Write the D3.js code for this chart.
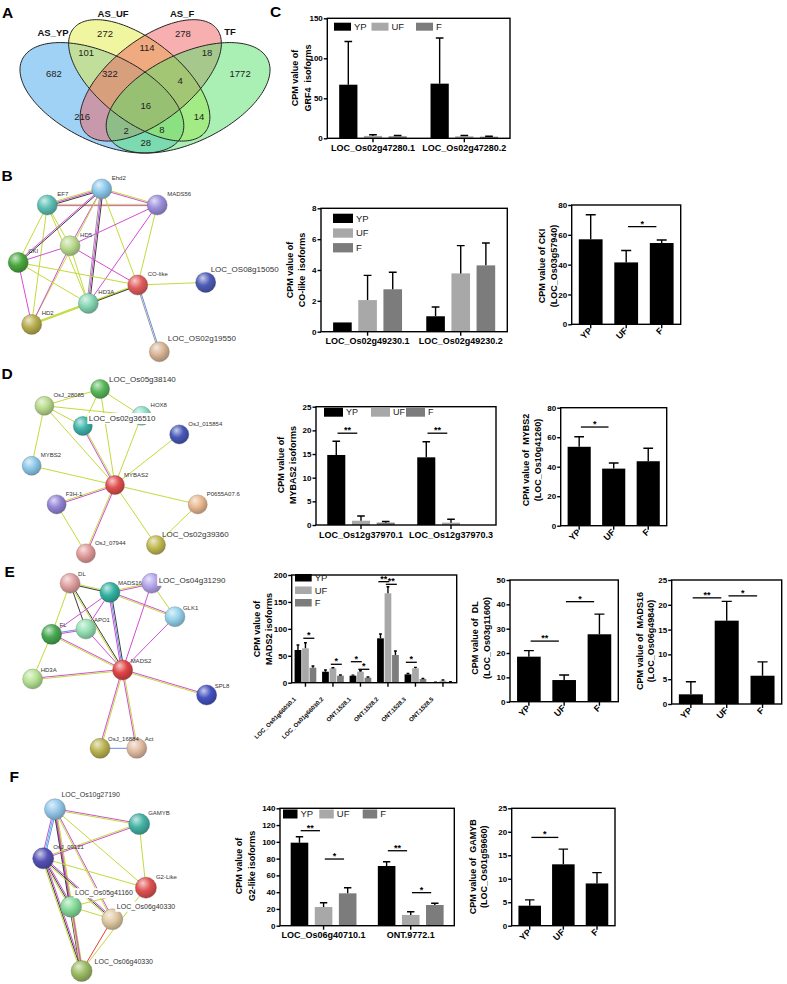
<!DOCTYPE html>
<html lang="en">
<head>
<meta charset="UTF-8" />
<title>AS isoforms and TF networks</title>
<style>
  body { margin: 0; background: white; }
  svg { display: block; font-family: "Liberation Sans", Arial, Helvetica, sans-serif; }
  .axis line { stroke: #000; stroke-width: 1.4px; }
  .axis text { font-size: 8px; font-weight: bold; fill: #000; font-family: "Liberation Sans", Arial, sans-serif; }
  .ytitle { font-size: 9px; font-weight: bold; white-space: pre; }
  .xlab { font-size: 9px; font-weight: bold; }
  .legend-text { font-size: 9.5px; fill: #222; }
  .letter { font-size: 15.5px; font-weight: bold; }
  .venn-num { font-size: 9.5px; fill: #222; }
  .venn-set { font-size: 9.5px; font-weight: bold; fill: #111; }
  .sig { font-size: 9px; font-weight: bold; }
  .node-label { fill: #333; }
</style>
</head>
<body>
<svg width="787" height="984" viewBox="0 0 787 984"></svg>
<script src="https://d3js.org/d3.v7.min.js"></script>
<script>
// ---------------- data ----------------
const conditions = ["YP", "UF", "F"];
const conditionColors = ["#000000", "#a8a8a8", "#7c7c7c"];

// A: Venn of AS genes and TFs
const vennSets = ["AS_YP", "AS_UF", "AS_F", "TF"];
const vennFills = ["#41a5eb", "#e1eb41", "#f06060", "#55e169"];
const vennCounts = [682, 272, 278, 1772, 101, 114, 18, 322, 4, 16, 216, 14, 2, 8, 28];

// C: GRF4
const grf4Isoforms = ["LOC_Os02g47280.1", "LOC_Os02g47280.2"];
const grf4Mean = [[67, 3, 2.5], [68.3, 2.5, 2]];
const grf4Sd = [[54, 1.5, 1], [57, 1, 0.5]];

// B: CO-like isoforms and CKI
const coIsoforms = ["LOC_Os02g49230.1", "LOC_Os02g49230.2"];
const coMean = [[0.6, 2.05, 2.75], [1.0, 3.78, 4.3]];
const coSd = [[0, 1.6, 1.1], [0.6, 1.8, 1.45]];
const ckiMean = [57, 41.5, 54.5];
const ckiSd = [16.5, 8, 2];

// D: MYBAS2 isoforms and MYBS2
const mybas2Isoforms = ["LOC_Os12g37970.1", "LOC_Os12g37970.3"];
const mybas2Mean = [[14.8, 0.9, 0.5], [14.3, 0.5, 0]];
const mybas2Sd = [[2.9, 1.0, 0.25], [3.3, 0.7, 0]];
const mybs2Mean = [53.5, 38.7, 43.7];
const mybs2Sd = [6.8, 3.8, 8.8];

// E: MADS2 isoforms, DL, MADS16
const mads2Isoforms = ["LOC_Os01g66030.1", "LOC_Os01g66030.2", "ONT.1528.1", "ONT.1528.2", "ONT.1528.3", "ONT.1528.5"];
const mads2Mean = [[60.7, 63.8, 27.9], [20.4, 26.7, 13], [13, 20.4, 9.3], [82.4, 166, 51.4], [15.5, 26.7, 6.8], [0.8, 3.7, 1.5]];
const mads2Sd = [[9.3, 10.5, 3.1], [3.2, 1, 1.3], [1, 1.9, 1.2], [8, 12.3, 7.5], [1.5, 1.8, 1], [0.3, 1.3, 0.5]];
const dlMean = [18.5, 8.9, 27.7];
const dlSd = [2.5, 2.1, 8.3];
const mads16Mean = [1.95, 16.8, 5.7];
const mads16Sd = [2.55, 3.9, 2.8];

// F: G2-like isoforms and GAMYB
const g2Isoforms = ["LOC_Os06g40710.1", "ONT.9772.1"];
const g2Mean = [[99, 22.3, 38.6], [71.2, 12.8, 24.7]];
const g2Sd = [[7, 5.1, 6.7], [5.1, 3.9, 2]];
const gamybMean = [4.26, 13.07, 9.0];
const gamybSd = [1.24, 3.23, 2.3];

// significance marks: [[group, bar], [group, bar], height (data units), label]
const ckiSig = [[[1, 0], [2, 0], 65.5, "*"]];
const mybas2Sig = [[[0, 0], [0, 1], 19.4, "**"], [[1, 0], [1, 1], 19.4, "**"]];
const mybs2Sig = [[[0, 0], [1, 0], 66.9, "*"]];
const mads2Sig = [[[0, 1], [0, 2], 82.5, "*"], [[1, 1], [1, 2], 34.2, "*"], [[2, 0], [2, 1], 39, "*"],
  [[2, 1], [2, 2], 24.9, "*"], [[3, 0], [3, 1], 187.6, "**"], [[3, 1], [3, 2], 182.7, "**"], [[4, 0], [4, 1], 37.9, "*"]];
const dlSig = [[[0, 0], [1, 0], 24.9, "**"], [[1, 0], [2, 0], 41.1, "*"]];
const mads16Sig = [[[0, 0], [1, 0], 21.4, "**"], [[1, 0], [2, 0], 21.8, "*"]];
const g2Sig = [[[0, 0], [0, 1], 113.3, "**"], [[0, 1], [0, 2], 79.5, "*"], [[1, 0], [1, 1], 89.4, "**"], [[1, 1], [1, 2], 39.4, "*"]];
const gamybSig = [[[0, 0], [1, 0], 18.8, "*"]];

// STRING networks: [id, label, colour, layout x, layout y, font, label dx, label dy, boxed]
const bNodes = [
  ["Ehd2", "Ehd2", "#8cc8ea", 0.424, 0.095], ["EF7", "EF7", "#5dbfb4", 0.197, 0.175],
  ["MADS56", "MADS56", "#9c8fdc", 0.655, 0.175], ["HD5", "HD5", "#b9da8c", 0.292, 0.379],
  ["CKI", "CKI", "#4aa83e", 0.076, 0.462], ["CO-like", "CO-like", "#e25c5c", 0.574, 0.575],
  ["L08", "LOC_OS08g15050", "#4f5cb8", 0.857, 0.562, 8, 5, -10.5], ["HD3A", "HD3A", "#86d6b4", 0.368, 0.667],
  ["HD2", "HD2", "#b7ae4e", 0.132, 0.772], ["L02", "LOC_OS02g19550", "#d8b596", 0.664, 0.909, 8, 8.5, -11]
];
const bEdges = [
  ["EF7", "Ehd2", "ymk"], ["EF7", "MADS56", "ym"], ["Ehd2", "MADS56", "ym"], ["EF7", "CKI", "y"], ["EF7", "HD5", "y"],
  ["EF7", "HD3A", "y"], ["EF7", "HD2", "y"], ["Ehd2", "CKI", "km"], ["Ehd2", "HD5", "m"], ["Ehd2", "HD3A", "kmg"],
  ["Ehd2", "CO-like", "y"], ["Ehd2", "HD2", "y"], ["MADS56", "HD5", "m"], ["MADS56", "HD3A", "m"], ["MADS56", "CO-like", "y"],
  ["HD5", "CKI", "m"], ["HD5", "CO-like", "m"], ["HD5", "HD2", "m"], ["HD5", "HD3A", "y"], ["CKI", "CO-like", "y"],
  ["CKI", "HD3A", "y"], ["CKI", "HD2", "m"], ["HD2", "HD3A", "yy"], ["HD2", "CO-like", "y"], ["HD3A", "CO-like", "yk"],
  ["CO-like", "L08", "y"], ["CO-like", "L02", "bg"]
];
const dNodes = [
  ["L05", "LOC_Os05g38140", "#58b85a", 0.417, 0.12, 8, 9, -7.5], ["O28", "OsJ_28085", "#b7d98c", 0.185, 0.204],
  ["HOX8", "HOX8", "#8cdcc8", 0.59, 0.254], ["L36", "LOC_Os02g36510", "#3fb5aa", 0.345, 0.305, 8, 6, -5, true],
  ["O15", "OsJ_015854", "#4858b8", 0.747, 0.347], ["MYBS2", "MYBS2", "#8cc8e8", 0.132, 0.504],
  ["MYBAS2", "MYBAS2", "#e05050", 0.479, 0.6], ["F3H", "F3H-1", "#9484d6", 0.236, 0.697],
  ["P06", "P0655A07.6", "#e8b890", 0.824, 0.697], ["L39", "LOC_Os02g39360", "#c2ba52", 0.65, 0.9, 8, 6, -8.5],
  ["O07", "OsJ_07944", "#e29a9a", 0.358, 0.942]
];
const dEdges = [
  ["L05", "O28", "y"], ["L05", "HOX8", "y"], ["L05", "L36", "y"], ["L05", "MYBAS2", "y"], ["O28", "HOX8", "y"],
  ["O28", "L36", "y"], ["O28", "MYBS2", "y"], ["O28", "MYBAS2", "y"], ["HOX8", "MYBAS2", "y"], ["L36", "MYBAS2", "ym"],
  ["O15", "MYBAS2", "y"], ["MYBS2", "MYBAS2", "y"], ["F3H", "MYBAS2", "ym"], ["F3H", "O07", "y"], ["O07", "MYBAS2", "ym"],
  ["MYBAS2", "P06", "y"], ["MYBAS2", "L39", "y"], ["P06", "L39", "y"]
];
const eNodes = [
  ["DL", "DL", "#e0a0a0", 0.292, 0.138], ["MADS16", "MADS16", "#33b2a2", 0.458, 0.182],
  ["L04", "LOC_Os04g31290", "#b4a4ea", 0.632, 0.138, 8, 7, -0.5, true], ["GLK1", "GLK1", "#94d2ea", 0.729, 0.301],
  ["FL", "FL", "#46a852", 0.215, 0.387], ["APO1", "APO1", "#94e0b4", 0.358, 0.361],
  ["MADS2", "MADS2", "#e04444", 0.511, 0.561], ["HD3A", "HD3A", "#b6e294", 0.136, 0.605],
  ["SPL8", "SPL8", "#4452c0", 0.861, 0.683], ["O16", "OsJ_16884", "#bab452", 0.417, 0.943],
  ["Act", "Act", "#e2bca2", 0.57, 0.943]
];
const eEdges = [
  ["DL", "MADS16", "yk"], ["DL", "FL", "y"], ["DL", "APO1", "k"], ["DL", "MADS2", "ky"], ["MADS16", "L04", "ym"],
  ["MADS16", "GLK1", "my"], ["MADS16", "FL", "m"], ["MADS16", "APO1", "m"], ["MADS16", "MADS2", "kbm"],
  ["L04", "GLK1", "y"], ["L04", "MADS2", "m"], ["GLK1", "MADS2", "m"], ["FL", "APO1", "bm"], ["FL", "MADS2", "my"],
  ["FL", "HD3A", "y"], ["APO1", "MADS2", "m"], ["HD3A", "MADS2", "my"], ["MADS2", "SPL8", "my"],
  ["MADS2", "O16", "ym"], ["MADS2", "Act", "ym"], ["O16", "Act", "b"]
];
const fNodes = [
  ["L10", "LOC_Os10g27190", "#94c8ea", 0.229, 0.22, 7, 6.5, -12], ["GAMYB", "GAMYB", "#44b2a4", 0.58, 0.286, 6, 9, -9.5],
  ["O09", "OsJ_09121", "#5452b4", 0.18, 0.439, 6, 10, -9], ["G2", "G2-Like", "#e05252", 0.608, 0.57, 6, 10, -8.5],
  ["L05", "LOC_Os05g41160", "#84da98", 0.296, 0.655, 7, 4, -11.5, true],
  ["TAN", "LOC_Os06g40330", "#e0c8a2", 0.468, 0.711, 7, 4.5, -10.5, true],
  ["OLV", "LOC_Os06g40330", "#9cbc64", 0.34, 0.942, 7, 13, -7.5]
];
const fEdges = [
  ["L10", "GAMYB", "my"], ["L10", "O09", "bcm"], ["L10", "G2", "y"], ["L10", "L05", "ym"], ["L10", "TAN", "my"],
  ["L10", "OLV", "ymk"], ["GAMYB", "O09", "my"], ["GAMYB", "G2", "y"], ["O09", "G2", "y"], ["O09", "L05", "mky"],
  ["O09", "TAN", "mky"], ["O09", "OLV", "mky"], ["L05", "TAN", "y"], ["L05", "G2", "y"], ["L05", "OLV", "my"],
  ["TAN", "OLV", "r"], ["OLV", "G2", "y"]
];
const edgeColors = { y: "#c4da3a", m: "#d24ed6", k: "#3c3c3c", b: "#6e8ee6", c: "#3fc8e2", r: "#e83c3c", g: "#9a9a9a" };

// ---------------- drawing ----------------
const svg = d3.select("svg");
const defs = svg.append("defs");

// panel letters
svg.selectAll("text.letter")
  .data([["A", 2, 17.5], ["B", 1.5, 181], ["C", 270, 17], ["D", 1.5, 378.5], ["E", 4.5, 577], ["F", 9.5, 782]])
  .join("text").attr("class", "letter")
  .attr("x", d => d[1]).attr("y", d => d[2]).text(d => d[0]);

// ----- A: Venn -----
const xV = d3.scaleLinear().domain([0, 1]).range([1.3, 288.7]);
const yV = d3.scaleLinear().domain([0, 1]).range([188.9, -4.9]);
const vennEllipses = [[0.35, 0.47, 0.35, 0.2, -45], [0.48, 0.56, 0.36, 0.17, -56], [0.52, 0.56, 0.36, 0.17, 56], [0.65, 0.47, 0.35, 0.2, 45]];
const vennLabelXY = [[0.183, 0.593], [0.361, 0.799], [0.632, 0.799], [0.831, 0.593], [0.295, 0.701], [0.507, 0.727],
  [0.716, 0.701], [0.378, 0.593], [0.622, 0.557], [0.503, 0.428], [0.281, 0.371], [0.688, 0.371], [0.434, 0.299],
  [0.559, 0.304], [0.503, 0.237]];
const vennSetXY = [[0.18, 0.806], [0.389, 0.906], [0.629, 0.906], [0.796, 0.811]];

function ellipsePoints([cx, cy, a, b, rot]) {
  const th = rot * Math.PI / 180;
  return d3.range(0, 360, 2).map(t => {
    const r = t * Math.PI / 180;
    return [cx + a * Math.cos(r) * Math.cos(th) - b * Math.sin(r) * Math.sin(th),
            cy + a * Math.cos(r) * Math.sin(th) + b * Math.sin(r) * Math.cos(th)];
  });
}
const vennLine = d3.line().x(p => xV(p[0])).y(p => yV(p[1])).curve(d3.curveLinearClosed);
const venn = svg.append("g");
venn.selectAll("path.vfill").data(vennEllipses).join("path").attr("class", "vfill")
  .attr("d", e => vennLine(ellipsePoints(e)))
  .attr("fill", (d, i) => vennFills[i]).attr("fill-opacity", 0.5);
venn.selectAll("path.vedge").data(vennEllipses).join("path").attr("class", "vedge")
  .attr("d", e => vennLine(ellipsePoints(e)))
  .attr("fill", "none").attr("stroke", "#222").attr("stroke-width", 1);
venn.selectAll("text.venn-num").data(vennCounts).join("text").attr("class", "venn-num")
  .attr("x", (d, i) => xV(vennLabelXY[i][0])).attr("y", (d, i) => yV(vennLabelXY[i][1]))
  .attr("dy", "0.35em").attr("text-anchor", "middle").text(d => d);
venn.selectAll("text.venn-set").data(vennSets).join("text").attr("class", "venn-set")
  .attr("x", (d, i) => xV(vennSetXY[i][0])).attr("y", (d, i) => yV(vennSetXY[i][1]))
  .attr("dy", "0.35em").attr("text-anchor", "middle").text(d => d);

// ----- bar charts -----
function barChart(o) {
  const g = svg.append("g");
  const grouped = o.series.length > 1;
  const [left, right, top, bottom] = o.box;
  const x = d3.scaleBand().domain(o.categories).range([left, right])
    .paddingInner(grouped ? 0 : 0.33).paddingOuter(grouped ? 0 : 0.2);
  const span = x.bandwidth() * (grouped ? o.inner : 1);
  const xi = d3.scaleBand().domain(o.series).range([-span / 2, span / 2]).paddingInner(grouped ? o.pad : 0);
  const y = d3.scaleLinear().domain([0, o.yMax]).range([bottom, top]);
  const cx = (c, s) => x(o.categories[c]) + x.bandwidth() / 2 + xi(o.series[s]) + xi.bandwidth() / 2;

  const rows = o.mean.flatMap((r, c) => r.map((v, s) => ({ c, s, v, e: o.sd[c][s] })));
  g.selectAll("rect.bar").data(rows.filter(d => d.v > 0)).join("rect").attr("class", "bar")
    .attr("x", d => cx(d.c, d.s) - xi.bandwidth() / 2).attr("width", xi.bandwidth())
    .attr("y", d => y(d.v)).attr("height", d => y(0) - y(d.v))
    .attr("fill", d => grouped ? conditionColors[d.s] : "#000");

  const capW = xi.bandwidth() * 0.42;
  g.selectAll("path.err").data(rows.filter(d => d.e > 0)).join("path").attr("class", "err")
    .attr("d", d => {
      const xc = cx(d.c, d.s), y0 = y(d.v), y1 = y(d.v + d.e);
      return `M${xc},${y0}V${y1}M${xc - capW / 2},${y1}H${xc + capW / 2}`;
    })
    .attr("fill", "none").attr("stroke", "#000").attr("stroke-width", 1.4);

  g.append("rect").attr("x", left).attr("y", top).attr("width", right - left).attr("height", bottom - top)
    .attr("fill", "none").attr("stroke", "#000").attr("stroke-width", 1.4);

  const ya = g.append("g").attr("class", "axis").attr("transform", `translate(${left},0)`)
    .call(d3.axisLeft(y).tickValues(o.yTicks).tickSize(3.5).tickSizeOuter(0).tickPadding(1));
  ya.select(".domain").remove();
  const xa = g.append("g").attr("class", "axis").attr("transform", `translate(0,${bottom})`)
    .call(d3.axisBottom(x).tickSize(4).tickSizeOuter(0).tickFormat(""));
  xa.select(".domain").remove();

  const ctr = c => x(c) + x.bandwidth() / 2;
  if (o.xStyle === "flat") {
    g.selectAll("text.xlab").data(o.categories).join("text").attr("class", "xlab")
      .attr("x", ctr).attr("y", bottom + 12.5).attr("text-anchor", "middle").text(d => d);
  } else {
    const r = o.xStyle;
    g.selectAll("text.xlab").data(o.categories).join("text").attr("class", "xlab")
      .attr("text-anchor", "end").style("font-size", r.size + "px")
      .attr("transform", d => `translate(${ctr(d) + r.dx},${bottom + r.dy}) rotate(-45)`)
      .text(d => d);
  }

  // y title, two lines
  o.yTitle.lines.forEach((t, i) => {
    g.append("text").attr("class", "ytitle").attr("text-anchor", "middle").attr("dy", "0.35em")
      .attr("transform", `translate(${o.yTitle.x[i]},${o.yTitle.y}) rotate(-90)`).text(t);
  });

  // legend
  if (o.legend) {
    const L = o.legend;
    const lg = g.selectAll("g.leg").data(conditions).join("g").attr("class", "leg")
      .attr("transform", (d, i) => `translate(${L.x + (L.dx ? L.dx[i] : 0)},${L.y + (L.dy ? L.dy * i : 0)})`);
    lg.append("rect").attr("width", L.w).attr("height", L.h).attr("fill", (d, i) => conditionColors[i]);
    lg.append("text").attr("class", "legend-text").attr("x", L.w + 3).attr("y", L.h / 2).attr("dy", "0.36em")
      .style("font-size", (L.size || 9.5) + "px").text(d => d);
  }

  // significance
  (o.sig || []).forEach(([a, b, v, lab]) => {
    const xa0 = cx(a[0], a[1]), xb0 = cx(b[0], b[1]), d = xb0 - xa0;
    let x1 = xa0 + 0.05 * d, x2 = xb0 - 0.15 * d;
    if (x2 - x1 < 11) { const m = (x1 + x2) / 2; x1 = m - 5.5; x2 = m + 5.5; }
    g.append("line").attr("x1", x1).attr("x2", x2).attr("y1", y(v)).attr("y2", y(v))
      .attr("stroke", "#000").attr("stroke-width", 1.3);
    g.append("text").attr("class", "sig").attr("x", (x1 + x2) / 2).attr("y", y(v))
      .attr("text-anchor", "middle").text(lab);
  });
}

const single = m => m.map(v => [v]);
const rot9 = { size: 9, dx: 2, dy: 7 };

barChart({ box: [327.3, 510, 18.3, 138.3], categories: grf4Isoforms, series: conditions, mean: grf4Mean, sd: grf4Sd,
  inner: 0.74, pad: 0.26, yMax: 150, yTicks: [0, 50, 100, 150], xStyle: "flat",
  legend: { x: 334, y: 22.7, w: 17, h: 8, dx: [0, 37.5, 82] },
  yTitle: { lines: ["CPM value of", "GRF4  isoforms"], x: [295, 307.5], y: 78 } });

barChart({ box: [321, 507.3, 208.3, 331.7], categories: coIsoforms, series: conditions, mean: coMean, sd: coSd,
  inner: 0.74, pad: 0.26, yMax: 8, yTicks: [0, 2, 4, 6, 8], xStyle: "flat",
  legend: { x: 333, y: 213.7, w: 20, h: 9.3, dy: 14.7 },
  yTitle: { lines: ["CPM value of", "CO-like  isoforms"], x: [290, 302], y: 270 } });

barChart({ box: [571.7, 680.7, 205, 324.3], categories: conditions, series: ["v"], mean: single(ckiMean), sd: single(ckiSd),
  yMax: 80, yTicks: [0, 20, 40, 60, 80], xStyle: rot9, sig: ckiSig,
  yTitle: { lines: ["CPM value of CKI", "(LOC_Os03g57940)"], x: [542, 553.5], y: 266 } });

barChart({ box: [316, 496, 406.7, 525], categories: mybas2Isoforms, series: conditions, mean: mybas2Mean, sd: mybas2Sd,
  inner: 0.75, pad: 0.27, yMax: 25, yTicks: [0, 5, 10, 15, 20, 25], xStyle: "flat", sig: mybas2Sig,
  legend: { x: 324, y: 407.7, w: 19, h: 9, dx: [0, 47, 82], size: 9 },
  yTitle: { lines: ["CPM value of", "MYBAS2 isoforms"], x: [281, 293], y: 465 } });

barChart({ box: [560.7, 666.7, 407.7, 525.7], categories: conditions, series: ["v"], mean: single(mybs2Mean), sd: single(mybs2Sd),
  yMax: 80, yTicks: [0, 20, 40, 60, 80], xStyle: rot9, sig: mybs2Sig,
  yTitle: { lines: ["CPM value of  MYBS2", "(LOC_Os10g41260)"], x: [526, 537.5], y: 460 } });

barChart({ box: [291.7, 456.7, 575, 682.7], categories: mads2Isoforms, series: conditions, mean: mads2Mean, sd: mads2Sd,
  inner: 0.79, pad: 0.1, yMax: 200, yTicks: [0, 50, 100, 150, 200], xStyle: { size: 6, dx: -9, dy: 17 }, sig: mads2Sig,
  legend: { x: 295, y: 574, w: 16.7, h: 7.5, dy: 12.5 },
  yTitle: { lines: ["CPM value of", "MADS2 isoforms"], x: [257, 269], y: 629 } });

barChart({ box: [510, 618.3, 580, 701.7], categories: conditions, series: ["v"], mean: single(dlMean), sd: single(dlSd),
  yMax: 50, yTicks: [0, 10, 20, 30, 40, 50], xStyle: rot9, sig: dlSig,
  yTitle: { lines: ["CPM value of  DL", "(LOC_Os03g11600)"], x: [475, 486.7], y: 638 } });

barChart({ box: [671.7, 781.7, 580, 704], categories: conditions, series: ["v"], mean: single(mads16Mean), sd: single(mads16Sd),
  yMax: 25, yTicks: [0, 5, 10, 15, 20, 25], xStyle: rot9, sig: mads16Sig,
  yTitle: { lines: ["CPM value of  MADS16", "(LOC_Os06g49840)"], x: [639.5, 651], y: 641 } });

barChart({ box: [280, 454.3, 808.3, 925.7], categories: g2Isoforms, series: conditions, mean: g2Mean, sd: g2Sd,
  inner: 0.755, pad: 0.27, yMax: 140, yTicks: d3.range(0, 141, 20), xStyle: "flat", sig: g2Sig,
  legend: { x: 283, y: 809.5, w: 14.5, h: 9, dx: [0, 36.3, 79.7] },
  yTitle: { lines: ["CPM value of", "G2-like isoforms"], x: [239, 252], y: 866 } });

barChart({ box: [511.7, 615, 808.3, 925.7], categories: conditions, series: ["v"], mean: single(gamybMean), sd: single(gamybSd),
  yMax: 25, yTicks: [0, 5, 10, 15, 20, 25], xStyle: rot9, sig: gamybSig,
  yTitle: { lines: ["CPM value of  GAMYB", "(LOC_Os01g59660)"], x: [472.5, 483.7], y: 866.7 } });

// ----- STRING networks -----
let gradCount = 0;
function sphere(color) {
  const id = "sph" + (gradCount++);
  const gr = defs.append("radialGradient").attr("id", id)
    .attr("cx", "40%").attr("cy", "35%").attr("r", "70%").attr("fx", "35%").attr("fy", "28%");
  gr.append("stop").attr("offset", "0%").attr("stop-color", d3.interpolateRgb(color, "#fff")(0.7));
  gr.append("stop").attr("offset", "50%").attr("stop-color", color);
  gr.append("stop").attr("offset", "100%").attr("stop-color", d3.color(color).darker(0.9));
  return `url(#${id})`;
}

function network(o) {
  const g = svg.append("g");
  const sx = d3.scaleLinear().domain([0, 1]).range([o.box[0], o.box[1]]);
  const sy = d3.scaleLinear().domain([0, 1]).range([o.box[2], o.box[3]]);
  const nodes = o.nodes.map(([id, label, color, fx, fy, size, ldx, ldy, boxed]) => ({
    id, label, color, x: sx(fx), y: sy(fy), size: size || 6,
    ldx: ldx !== undefined ? ldx : o.ldx, ldy: ldy !== undefined ? ldy : o.ldy, boxed }));
  const byId = new Map(nodes.map(n => [n.id, n]));

  const segs = o.edges.flatMap(([a, b, types]) => {
    const p = byId.get(a), q = byId.get(b);
    const len = Math.hypot(q.x - p.x, q.y - p.y), nx = -(q.y - p.y) / len, ny = (q.x - p.x) / len;
    return [...types].map((t, i) => {
      const off = (i - (types.length - 1) / 2) * 1.3;
      return { x1: p.x + nx * off, y1: p.y + ny * off, x2: q.x + nx * off, y2: q.y + ny * off, c: edgeColors[t] };
    });
  });
  g.selectAll("line").data(segs).join("line")
    .attr("x1", d => d.x1).attr("y1", d => d.y1).attr("x2", d => d.x2).attr("y2", d => d.y2)
    .attr("stroke", d => d.c).attr("stroke-width", 1);

  g.selectAll("circle").data(nodes).join("circle")
    .attr("cx", d => d.x).attr("cy", d => d.y).attr("r", o.r)
    .attr("fill", d => sphere(d.color))
    .attr("stroke", d => d3.color(d.color).darker(1.2)).attr("stroke-width", 0.4);

  nodes.forEach(n => {
    const t = g.append("text").attr("class", "node-label")
      .attr("x", n.x + n.ldx).attr("y", n.y + n.ldy)
      .style("font-size", n.size + "px").text(n.label);
    if (n.boxed) {
      const bb = t.node().getBBox();
      g.insert("rect", () => t.node())
        .attr("x", bb.x - 1.5).attr("y", bb.y - 1).attr("width", bb.width + 3).attr("height", bb.height + 2)
        .attr("fill", "#fff");
    }
  });
}

network({ box: [0, 240, 170, 370], r: 10, nodes: bNodes, edges: bEdges, ldx: 10, ldy: -9 });
network({ box: [0, 240, 365, 565], r: 9.5, nodes: dNodes, edges: dEdges, ldx: 9, ldy: -8.5 });
network({ box: [0, 240, 555, 760], r: 10, nodes: eNodes, edges: eEdges, ldx: 8, ldy: -7 });
network({ box: [0, 240, 760, 984], r: 10.5, nodes: fNodes, edges: fEdges, ldx: 9, ldy: -9 });
</script>
</body>
</html>
